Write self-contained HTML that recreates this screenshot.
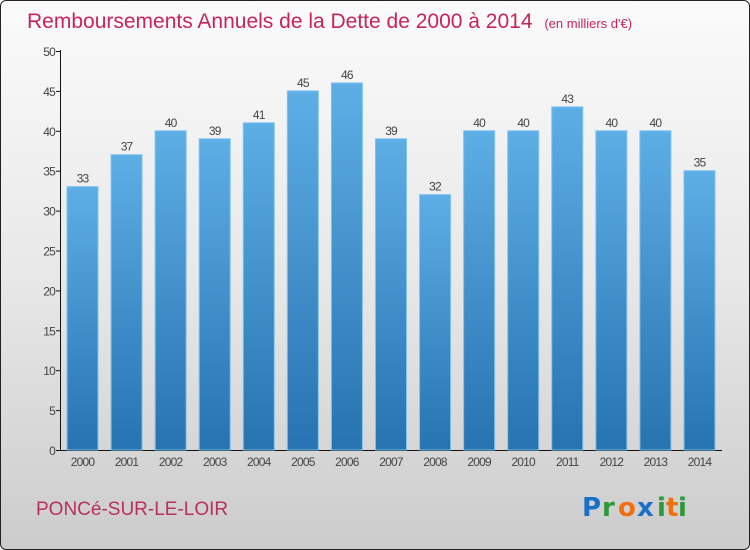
<!DOCTYPE html>
<html><head><meta charset="utf-8"><style>
html,body{margin:0;padding:0}
body{width:750px;height:550px;overflow:hidden;font-family:"Liberation Sans",sans-serif}
#frame{position:absolute;left:0;top:0;width:748px;height:548px;border:1px solid #222;border-radius:6px;background:linear-gradient(#fbfbfb,#e8e8e8 50%,#cccccc);}
</style></head><body>
<div id="frame"></div>
<svg id="chart" width="750" height="550" style="position:absolute;left:0;top:0">
<defs><linearGradient id="bg" x1="0" y1="0" x2="0" y2="1"><stop offset="0" stop-color="#5eaee6"/><stop offset="1" stop-color="#2673b0"/></linearGradient></defs>
<text x="27" y="28" font-size="21" fill="#c8245a">Remboursements Annuels de la Dette de 2000 à 2014 <tspan font-size="13" dx="6">(en milliers d'€)</tspan></text>
<text x="36" y="515" font-size="19" fill="#b8305e">PONCé-SUR-LE-LOIR</text>
<g font-size="26" font-weight="bold" font-family="'DejaVu Sans',sans-serif">
<text x="582" y="516" fill="#1a6fc8">P</text><text x="602" y="516" fill="#2a9a3a">r</text><text x="618" y="516" fill="#f07010">o</text><text x="637" y="516" fill="#1a6fc8">x</text><text x="657" y="516" fill="#2a9a3a">i</text><text x="666" y="516" fill="#f07010">t</text><text x="678" y="516" fill="#2a9a3a">i</text></g>
<g id="plot"></g>
</svg>
<script>
const categories=["2000","2001","2002","2003","2004","2005","2006","2007","2008","2009","2010","2011","2012","2013","2014"];
const values=[33,37,40,39,41,45,46,39,32,40,40,43,40,40,35];
const yTicks=[0,5,10,15,20,25,30,35,40,45,50];
const NS="http://www.w3.org/2000/svg";
const g=document.getElementById('plot');
const y=v=>450-v*7.98;
const x=i=>67+i*44.07;
function mk(t,a){const e=document.createElementNS(NS,t);for(const k in a)e.setAttribute(k,a[k]);g.appendChild(e);return e;}
let ax=mk('line',{x1:60.5,y1:50,x2:60.5,y2:450.5,stroke:'#111','stroke-width':1});


let bx=mk('line',{x1:60,y1:450.5,x2:722,y2:450.5,stroke:'#111','stroke-width':1});


yTicks.forEach(t=>{
 let l=mk('line',{x1:56,x2:61,y1:y(t)+0.5,y2:y(t)+0.5,stroke:'#111'});
 
 
 let tx=mk('text',{x:55,y:y(t)+5,'font-size':12,'text-anchor':'end',fill:'#444','letter-spacing':'-0.8'});
 tx.textContent=t;
 
 
});
categories.forEach((c,i)=>{
 let r=mk('rect',{x:x(i),y:y(values[i]),width:31,height:450-y(values[i]),fill:'url(#bg)',stroke:'#7cc4f0','stroke-width':1});
 
 
 let v=mk('text',{x:x(i)+15.5,y:y(values[i])-4,'font-size':12,'text-anchor':'middle',fill:'#444','letter-spacing':'-0.8'});
 v.textContent=values[i];
 
 
 let tl=mk('text',{x:x(i)+15.5,y:466,'font-size':12,'text-anchor':'middle',fill:'#444','letter-spacing':'-0.8'});
 tl.textContent=c;
 
 
});
</script>
</body></html>
